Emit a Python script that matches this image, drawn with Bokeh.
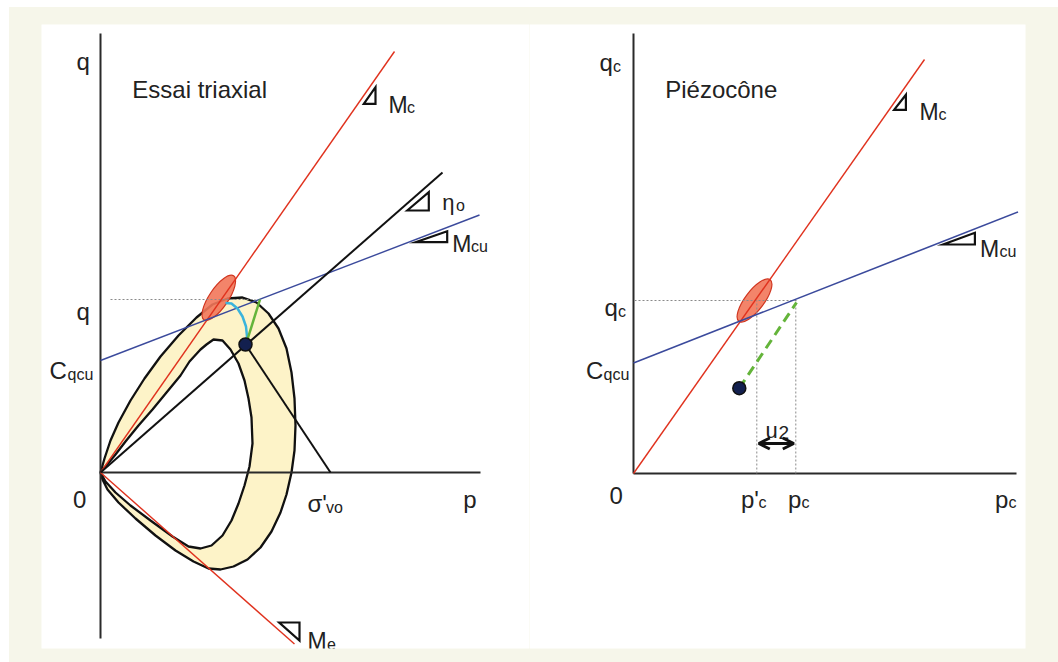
import math
from bokeh.plotting import figure
from bokeh.layouts import row
from bokeh.models import Range1d, Arrow, OpenHead
from bokeh.core.properties import value
from bokeh.embed import file_html
from bokeh.resources import INLINE

# ================= DATA : left panel "Essai triaxial"  (p, q) =================
L_qaxis_q = [-166, 439]
L_paxis_p = [0, 380]
L_Mc_p, L_Mc_q = [0, 294], [0, 421]
L_eta_p, L_eta_q = [0, 342], [0, 300]
L_Mcu_p, L_Mcu_q = [0, 379], [112, 257.5]
L_Me_p, L_Me_q = [0, 194], [0, -171.5]
L_point_p, L_point_q = [145], [128]
L_sig_p, L_sig_q = [145, 230], [128, 0]          # path to sigma'vo
L_qlevel = 173
L_qdot_p = [10, 155]
L_ell = dict(p=118.3, q=174.7, length=53, width=19, angle_deg=56)
L_cyan_p = [125, 131, 137, 142, 145.5, 146.5, 145.5]
L_cyan_q = [169.5, 169, 164, 156, 146, 136, 130]
L_green_p, L_green_q = [146, 159.5], [130, 173]
L_outer_p = [0, 4, 10, 18, 30, 44, 60, 78, 96, 112, 127, 142, 156, 168, 178, 186, 191, 194, 195,
             194, 191, 186, 180, 171, 160, 147, 133, 120, 108, 93, 75, 55, 35, 18, 7, 2]
L_outer_q = [0, 14, 32, 50, 72, 94, 116, 137, 155, 168, 174, 175, 170, 159, 144, 124, 100, 74, 47,
             22, 0, -22, -40, -59, -75, -87, -94, -97, -96, -89, -78, -63, -46, -30, -17, -7]
L_inner_p = [0, 5, 15, 25, 38, 52, 66, 80, 89, 100, 106, 113, 122, 130, 138, 144, 148, 151, 152,
             149, 144, 138, 131, 122, 111, 100, 88, 72, 50, 30, 15, 5]
L_inner_q = [0, 6, 18, 31, 47, 63, 80, 97, 111, 123, 128, 133, 132, 123, 109, 92, 74, 55, 29,
             6, -13, -31, -48, -63, -73, -76, -74, -64, -48, -33, -20, -9]
L_tri_Mc = ([263.3, 275, 275], [368.7, 385.3, 368.7])
L_tri_eta = ([306.7, 328.3, 328.3], [262, 280.3, 262])
L_tri_Mcu = ([315, 346.7, 346.7], [230.3, 241.3, 230.3])
L_tri_Me = ([178.7, 199, 199], [-150, -150, -168])
L_main_text = ["q", "Essai triaxial", "q", "C", "0", "σ'", "p", "M", "η", "M", "M"]
L_sub_text = ["", "", "", "qcu", "", "vo", "", "c", "o", "cu", "e"]

# ================= DATA : right panel "Piézocône"  (p, q) =================
R_qaxis_q = [0, 440]
R_paxis_p = [0, 383]
R_Mc_p, R_Mc_q = [0, 291], [0, 414]
R_Mcu_p, R_Mcu_q = [0, 384.5], [110.5, 261.6]
R_point_p, R_point_q = [105.8], [85.3]
R_qlevel = 173
R_qdot_p = [1, 163]
R_pprime_c = 123.3
R_p_c = 162.3
R_green_p, R_green_q = [105.8, 163], [85.3, 171]
R_ell = dict(p=121, q=173, length=52, width=19, angle_deg=53)
R_u2_q = 30
R_tri_Mc = ([260.6, 272.4, 272.4], [363.6, 378.7, 363.6])
R_tri_Mcu = ([309.5, 341.4, 341.4], [229, 240.7, 229])
R_main_text = ["q", "Piézocône", "q", "C", "0", "p'", "p", "p", "M", "M", "u"]
R_sub_text = ["c", "", "c", "qcu", "", "c", "c", "c", "c", "cu", "2"]

# ================= label placement (annotation positions) =================
L_main_pos = [(-24, 411), (31.8, 383), (-24, 161), (-51, 102), (-27.4, -27), (207, -31),
              (362.8, -27), (288, 368), (341.7, 270), (351.7, 229), (207, -168)]
L_sub_pos = [None, None, None, (-33, 98), None, (225.5, -35), None, (306.5, 365), (355.5, 267),
             (370.5, 226), (226.5, -171)]
L_main_size = [24, 24, 24, 24, 24, 24, 24, 23, 22, 23, 23]
R_main_pos = [(-34, 411), (31.7, 384), (-29, 166), (-47.5, 103), (-24, -22), (107.4, -26),
              (154.6, -26), (361.6, -26), (285.9, 362), (346.5, 225), (132, 43)]
R_sub_pos = [(-20.5, 407), None, (-15.5, 162), (-30, 99), None, (125, -29), (168, -29),
             (375, -29), (305, 359), (366, 222), (145, 41)]
R_main_size = [24, 24, 24, 24, 24, 24, 24, 24, 23, 23, 22]
R_sub_size_override = {"2": 19}

# ================= styles =================
FONT = value("Liberation Sans")
CREAM = "#f6f6ea"
BAND = "#fdf3c8"
RED = "#e0321e"
BLUE = "#3b4a9c"
BLACK = "#111111"
AXIS = "#2a2a2a"
CYAN = "#3ab4dc"
GREEN = "#64b43a"
ELL_FILL = "#f2775a"
ELL_LINE = "#d0351f"
TXT = "#222222"


def make_fig(width, xr, yr, left, right):
    f = figure(width=width, height=655, x_range=Range1d(*xr), y_range=Range1d(*yr),
               output_backend="svg", toolbar_location=None,
               x_axis_location=None, y_axis_location=None,
               min_border_left=left, min_border_right=right,
               min_border_top=17, min_border_bottom=14)
    f.grid.visible = False
    f.outline_line_color = None
    f.background_fill_color = "white"
    f.border_fill_color = CREAM
    return f


def labels(f, texts, subs, pos, spos, sizes):
    for t, s, p_, sp, sz in zip(texts, subs, pos, spos, sizes):
        f.text(x=[p_[0]], y=[p_[1]], text=[t], text_font=FONT, text_font_size=f"{sz}px",
               text_color=TXT, text_align="left", text_baseline="alphabetic")
        if s:
            ssz = R_sub_size_override.get(s, 16)
            f.text(x=[sp[0]], y=[sp[1]], text=[s], text_font=FONT, text_font_size=f"{ssz}px",
                   text_color=TXT, text_align="left", text_baseline="alphabetic")


def tri(f, t):
    f.patch(x=t[0], y=t[1], fill_color=None, line_color=BLACK, line_width=2.2, line_join="miter")


# ---------------- left figure ----------------
pl = make_fig(520, (-59, 429), (-176, 448), 32, 0)
pl.multi_polygons(xs=[[[L_outer_p, L_inner_p]]], ys=[[[L_outer_q, L_inner_q]]],
                  fill_color=BAND, line_color=BLACK, line_width=2.3)
pl.ellipse(x=[L_ell["p"]], y=[L_ell["q"]], width=[L_ell["length"]], height=[L_ell["width"]],
           angle=[math.radians(L_ell["angle_deg"])], fill_color=ELL_FILL, fill_alpha=0.9,
           line_color=ELL_LINE, line_width=1.2)
pl.line([0, 0], L_qaxis_q, line_color=AXIS, line_width=2)
pl.line(L_paxis_p, [0, 0], line_color=AXIS, line_width=2)
pl.line(L_qdot_p, [L_qlevel, L_qlevel], line_color="#8a8a8a", line_width=1, line_dash="2 2")
pl.line(L_Mc_p, L_Mc_q, line_color=RED, line_width=1.4)
pl.line(L_Me_p, L_Me_q, line_color=RED, line_width=1.4)
pl.line(L_Mcu_p, L_Mcu_q, line_color=BLUE, line_width=1.4)
pl.line(L_eta_p, L_eta_q, line_color=BLACK, line_width=2)
pl.line(L_sig_p, L_sig_q, line_color=BLACK, line_width=2)
pl.line(L_cyan_p, L_cyan_q, line_color=CYAN, line_width=2.5)
pl.line(L_green_p, L_green_q, line_color=GREEN, line_width=2.5)
pl.scatter(L_point_p, L_point_q, size=13, fill_color="#13204f", line_color=BLACK, line_width=1.5)
for t in (L_tri_Mc, L_tri_eta, L_tri_Mcu, L_tri_Me):
    tri(pl, t)
labels(pl, L_main_text, L_sub_text, L_main_pos, L_sub_pos, L_main_size)

# ---------------- right figure ----------------
pr = make_fig(529, (-104, 392), (-175, 449), 0, 33)
pr.ellipse(x=[R_ell["p"]], y=[R_ell["q"]], width=[R_ell["length"]], height=[R_ell["width"]],
           angle=[math.radians(R_ell["angle_deg"])], fill_color=ELL_FILL, fill_alpha=0.9,
           line_color=ELL_LINE, line_width=1.2)
pr.line([0, 0], R_qaxis_q, line_color=AXIS, line_width=2)
pr.line(R_paxis_p, [0, 0], line_color=AXIS, line_width=2)
pr.line(R_qdot_p, [R_qlevel, R_qlevel], line_color="#8a8a8a", line_width=1, line_dash="2 2")
pr.line([R_pprime_c, R_pprime_c], [0, R_qlevel], line_color="#8a8a8a", line_width=1, line_dash="2 2")
pr.line([R_p_c, R_p_c], [0, R_qlevel], line_color="#8a8a8a", line_width=1, line_dash="2 2")
pr.line(R_Mc_p, R_Mc_q, line_color=RED, line_width=1.4)
pr.line(R_Mcu_p, R_Mcu_q, line_color=BLUE, line_width=1.6)
pr.line(R_green_p, R_green_q, line_color=GREEN, line_width=3, line_dash="10 6")
pr.scatter(R_point_p, R_point_q, size=13, fill_color="#13204f", line_color=BLACK, line_width=1.5)
pr.add_layout(Arrow(x_start=R_pprime_c + 2, y_start=R_u2_q, x_end=R_p_c - 2, y_end=R_u2_q,
                    line_width=3, line_color=BLACK,
                    start=OpenHead(size=11, line_width=3, line_color=BLACK),
                    end=OpenHead(size=11, line_width=3, line_color=BLACK)))
for t in (R_tri_Mc, R_tri_Mcu):
    tri(pr, t)
labels(pr, R_main_text, R_sub_text, R_main_pos, R_sub_pos, R_main_size)

layout = row(pl, pr, margin=(7, 0, 0, 9), styles={"background-color": CREAM})
open("out.html", "w").write(file_html(layout, INLINE))
